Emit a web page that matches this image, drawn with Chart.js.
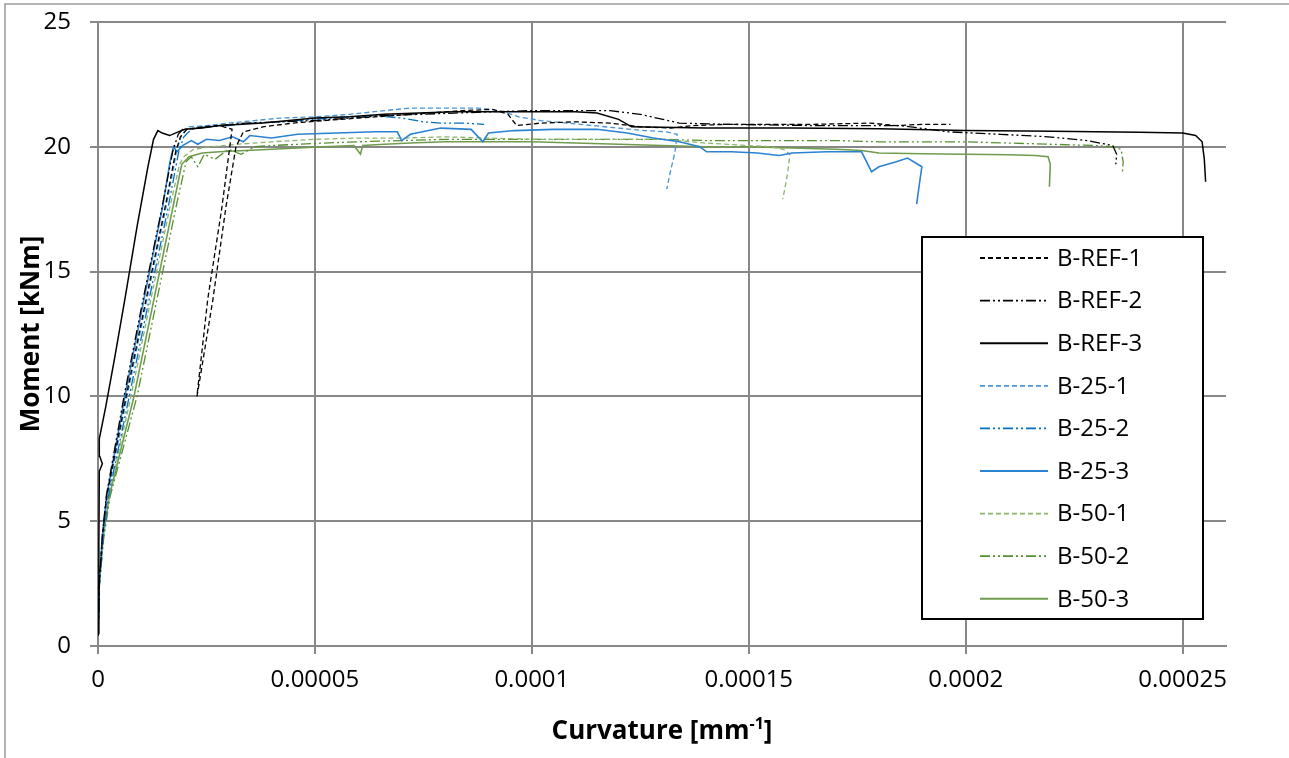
<!DOCTYPE html>
<html>
<head>
<meta charset="utf-8">
<title>Moment - Curvature</title>
<script src="https://cdn.jsdelivr.net/npm/chart.js@4.4.1/dist/chart.umd.min.js"></script>
<style>
    body { margin: 0; background: #fff; }
    #wrap { position: relative; width: 1289px; height: 758px; }
</style>
</head>
<body>
<div id="wrap"><canvas id="chart"></canvas></div>
<script>
// Values: [curvature in 1e-6 mm^-1, moment in kNm]
var seriesNames = ['B-REF-1', 'B-REF-2', 'B-REF-3', 'B-25-1', 'B-25-2', 'B-25-3', 'B-50-1', 'B-50-2', 'B-50-3'];

var bRef1 = [[0,0.4],[0.3,2.6],[1.1,4.5],[2.0,6.0],[6.5,10.0],[11.1,13.9],[15.5,17.6],[17.9,19.8],[19.0,20.4],[20.5,20.7],
    [24,20.8],[28,20.85],[30.9,20.7],[28.5,17.5],[25.3,13.9],[22.8,10.0],[23.4,10.6],[26.5,13.9],[29.5,17.6],[31.8,20.0],
    [33.5,20.6],[38,20.8],[45,20.95],[52,21.05],[60,21.15],[68,21.25],[76,21.35],[84,21.45],[91,21.5],[94.5,21.3],
    [96.5,20.85],[102,20.95],[110,21.0],[118,20.95],[125,20.8],[132,20.75],[137,20.85],[145,20.9],[155,20.9],[165,20.9],
    [178,20.95],[184,20.85],[190,20.9],[196.5,20.9]];

var bRef2 = [[0,0.4],[0.3,2.5],[1.0,4.4],[1.9,6.0],[6.0,10.0],[10.4,13.9],[14.8,17.6],[17.2,19.8],[18.5,20.5],[19.5,20.7],
    [23,20.75],[28,20.85],[34,20.95],[42,21.0],[50,21.05],[58,21.15],[66,21.25],[74,21.3],[82,21.35],[90,21.4],
    [100,21.45],[110,21.45],[118,21.45],[125,21.3],[134,20.95],[145,20.9],[165,20.85],[185,20.85],[196,20.6],[208,20.5],
    [219,20.4],[228,20.25],[233.9,20.05],[234.8,19.7],[234.6,19.3]];

var bRef3 = [[0,0.5],[0.2,4.0],[0.3,7.0],[1.0,7.3],[0.4,7.6],[0.3,8.3],[1.8,9.6],[3.8,11.5],[6.2,13.9],[9.0,16.8],
    [11.5,19.2],[12.8,20.3],[13.8,20.65],[14.8,20.55],[16.5,20.45],[18.5,20.6],[20,20.7],[24,20.75],[28,20.85],[33,20.9],
    [38,20.95],[44,21.05],[50,21.15],[58,21.2],[66,21.3],[74,21.35],[82,21.4],[90,21.4],[100,21.4],[110,21.4],
    [115,21.35],[120,21.1],[123,20.8],[130,20.78],[140,20.75],[160,20.75],[180,20.72],[200,20.65],[220,20.62],[240,20.58],
    [250,20.55],[253,20.45],[254.5,20.2],[255,19.5],[255.3,18.6]];

var b25a = [[0,0.4],[0.3,2.5],[1.1,4.4],[2.2,6.0],[6.7,10.0],[11.3,13.9],[15.7,17.6],[18.1,19.8],[19.3,20.5],[21,20.8],
    [25,20.85],[30,20.95],[36,21.05],[42,21.15],[50,21.2],[58,21.3],[66,21.45],[72,21.55],[80,21.55],[88,21.55],
    [92.5,21.45],[97,21.2],[102,21.05],[108,20.95],[114,20.85],[120,20.75],[126,20.65],[131,20.6],[133.5,20.5],[133,19.8],
    [131.8,18.9],[131.1,18.3]];

var b25b = [[0,0.4],[0.3,2.4],[1.2,4.3],[2.4,6.0],[7.2,10.0],[11.8,13.9],[16.2,17.6],[18.6,19.8],[19.8,20.4],[21.5,20.7],
    [25,20.8],[30,20.85],[36,20.95],[42,21.0],[50,21.1],[58,21.2],[64,21.25],[70,21.15],[75,21.0],[79,20.95],
    [84,20.95],[89,20.9]];

var b25c = [[0,0.4],[0.3,2.5],[1.0,4.4],[2.0,6.0],[6.2,10.0],[10.6,13.9],[14.9,17.6],[16.6,19.4],[17.4,20.0],[18.2,19.8],
    [19.5,20.05],[21.5,20.25],[23,20.1],[25,20.3],[28,20.25],[31,20.4],[33.5,20.2],[35,20.45],[40,20.35],[46,20.5],
    [55,20.55],[64,20.6],[69,20.6],[70,20.25],[72,20.5],[79,20.75],[86,20.7],[88.7,20.2],[90,20.55],[96,20.65],
    [105,20.7],[115,20.7],[122,20.55],[128,20.35],[134,20.2],[138.7,20.0],[140.3,19.8],[146,19.8],[152,19.75],[157,19.65],
    [160,19.75],[168,19.8],[176,19.8],[178.3,19.0],[180,19.2],[184,19.4],[186.6,19.55],[189.9,19.2],[189.4,18.6],[188.7,17.7]];

var b50a = [[0,0.4],[0.3,2.5],[1.2,4.4],[2.5,6.0],[7.6,10.0],[12.2,13.9],[16.6,17.6],[18.8,19.3],[19.8,19.6],[22,19.9],
    [26,20.0],[32,20.1],[40,20.2],[50,20.3],[60,20.35],[70,20.35],[80,20.4],[90,20.35],[100,20.3],[110,20.3],
    [120,20.3],[130,20.3],[140,20.15],[150,20.05],[155,20.0],[158,19.9],[159.5,19.7],[159,19.0],[158.3,18.3],[157.8,17.9]];

var b50b = [[0,0.4],[0.3,2.4],[1.3,4.3],[2.8,6.0],[9.0,10.0],[13.6,13.9],[18,17.6],[20.3,19.4],[21.5,19.6],[23,19.2],
    [24.5,19.7],[27,19.5],[30,19.9],[33,19.7],[36,20.0],[40,20.05],[46,20.1],[52,20.15],[60,20.2],[70,20.25],
    [80,20.3],[90,20.3],[100,20.3],[110,20.3],[120,20.3],[130,20.3],[140,20.25],[150,20.25],[160,20.25],[170,20.25],
    [180,20.2],[190,20.2],[200,20.2],[210,20.15],[220,20.1],[230,20.05],[234,20.0],[235.8,19.9],[236.3,19.4],[236.1,18.9]];

var b50c = [[0,0.4],[0.3,2.5],[1.2,4.4],[2.6,6.0],[8.3,10.0],[12.9,13.9],[17.3,17.6],[19.3,19.3],[21,19.6],[24,19.75],
    [28,19.8],[34,19.85],[40,19.9],[46,19.95],[52,20.0],[59,20.05],[60.5,19.7],[61,20.05],[66,20.1],[72,20.15],
    [80,20.2],[90,20.2],[100,20.2],[110,20.15],[120,20.1],[130,20.05],[140,20.0],[150,20.0],[160,19.95],[170,19.9],
    [176,19.85],[180,19.75],[190,19.72],[200,19.7],[210,19.68],[216,19.65],[219,19.6],[219.5,19.3],[219.3,18.4]];

var xTicks = [0, 0.00005, 0.0001, 0.00015, 0.0002, 0.00025];
var yTicks = [0, 5, 10, 15, 20, 25];

var dashed = [5, 3];
var dashDotDot = [10, 3, 2, 3, 2, 3];

function toPoints(arr) {
    return arr.map(function (p) { return {x: p[0] * 1e-6, y: p[1]}; });
}

function line(label, arr, color, dash, width) {
    return {
        label: label,
        data: toPoints(arr),
        showLine: true,
        borderColor: color,
        backgroundColor: color,
        borderDash: dash,
        borderWidth: width,
        pointRadius: 0,
        tension: 0,
        fill: false
    };
}

// Outer frame, axis titles and the legend box inside the plot
var decorations = {
    id: 'decorations',
    beforeDraw: function (chart) {
        var ctx = chart.ctx;
        ctx.save();
        ctx.strokeStyle = '#9a9a9a';
        ctx.lineWidth = 1.5;
        ctx.beginPath();
        ctx.moveTo(5, chart.height);
        ctx.lineTo(5, 4);
        ctx.lineTo(chart.width, 4);
        ctx.stroke();
        ctx.restore();
    },
    afterDraw: function (chart) {
        var ctx = chart.ctx;
        var area = chart.chartArea;
        ctx.save();
        ctx.fillStyle = '#000';
        ctx.textBaseline = 'alphabetic';

        // x title with superscript
        var big = 'bold 26px "Open Sans"', small = 'bold 16px "Open Sans"';
        ctx.font = big;
        var a = ctx.measureText('Curvature [mm').width;
        var c = ctx.measureText(']').width;
        ctx.font = small;
        var b = ctx.measureText('-1').width;
        var x0 = (area.left + area.right) / 2 - (a + b + c) / 2;
        var base = 739;
        ctx.font = big;
        ctx.textAlign = 'left';
        ctx.fillText('Curvature [mm', x0, base);
        ctx.font = small;
        ctx.fillText('-1', x0 + a, base - 10);
        ctx.font = big;
        ctx.fillText(']', x0 + a + b, base);

        // y title
        ctx.save();
        ctx.translate(32, (area.top + area.bottom) / 2);
        ctx.rotate(-Math.PI / 2);
        ctx.textAlign = 'center';
        ctx.textBaseline = 'middle';
        ctx.font = 'bold 26px "Open Sans"';
        ctx.fillText('Moment [kNm]', 0, 0);
        ctx.restore();

        // legend
        var box = {x: 922, y: 237, w: 281, h: 382};
        ctx.fillStyle = '#fff';
        ctx.fillRect(box.x, box.y, box.w, box.h);
        ctx.strokeStyle = '#000';
        ctx.lineWidth = 2;
        ctx.strokeRect(box.x, box.y, box.w, box.h);
        ctx.font = '24px "Open Sans"';
        ctx.textAlign = 'left';
        ctx.textBaseline = 'middle';
        chart.data.datasets.forEach(function (ds, i) {
            var y = 258 + i * 42.6;
            ctx.save();
            ctx.strokeStyle = ds.borderColor;
            ctx.lineWidth = ds.borderWidth + 0.5;
            ctx.setLineDash(ds.borderDash);
            ctx.beginPath();
            ctx.moveTo(980, y);
            ctx.lineTo(1048, y);
            ctx.stroke();
            ctx.restore();
            ctx.fillStyle = '#000';
            ctx.fillText(ds.label, 1057, y + 1);
        });
        ctx.restore();
    }
};

var ctx = document.getElementById('chart').getContext('2d');
var chart = new Chart(ctx, {
    type: 'scatter',
    data: {
        datasets: [
            line(seriesNames[0], bRef1, '#000000', dashed, 1.3),
            line(seriesNames[1], bRef2, '#000000', dashDotDot, 1.3),
            line(seriesNames[2], bRef3, '#000000', [], 1.5),
            line(seriesNames[3], b25a, '#4a94d8', dashed, 1.3),
            line(seriesNames[4], b25b, '#0070c0', dashDotDot, 1.3),
            line(seriesNames[5], b25c, '#2a82d2', [], 1.6),
            line(seriesNames[6], b50a, '#8cb46a', dashed, 1.3),
            line(seriesNames[7], b50b, '#56902e', dashDotDot, 1.3),
            line(seriesNames[8], b50c, '#6f9c4c', [], 1.6)
        ]
    },
    options: {
        responsive: true,
        maintainAspectRatio: false,
        animation: false,
        layout: {padding: {left: 0, top: 22, right: 63, bottom: 0}},
        plugins: {
            legend: {display: false},
            tooltip: {enabled: false}
        },
        scales: {
            x: {
                type: 'linear',
                min: 0,
                max: 0.00026,
                afterBuildTicks: function (scale) {
                    scale.ticks = xTicks.map(function (v) { return {value: v}; });
                },
                afterFit: function (scale) {
                    scale.height = 112;
                    scale.paddingLeft = 0;
                    scale.paddingRight = 0;
                },
                grid: {color: '#888', lineWidth: 2, tickLength: 8},
                border: {color: '#888', width: 2},
                ticks: {
                    color: '#000',
                    font: {family: 'Open Sans', size: 24},
                    padding: 12,
                    maxRotation: 0,
                    callback: function (v) { return String(v); }
                }
            },
            y: {
                type: 'linear',
                min: 0,
                max: 25,
                afterBuildTicks: function (scale) {
                    scale.ticks = yTicks.map(function (v) { return {value: v}; });
                },
                afterFit: function (scale) {
                    // keep the label padding from pushing the plot area down
                    scale.width = 98;
                    scale.paddingTop = 0;
                    scale.paddingBottom = 0;
                },
                grid: {color: '#888', lineWidth: 2, tickLength: 8},
                border: {color: '#888', width: 2},
                ticks: {
                    color: '#000',
                    font: {family: 'Open Sans', size: 24},
                    padding: 19
                }
            }
        }
    },
    plugins: [decorations]
});
</script>
</body>
</html>
